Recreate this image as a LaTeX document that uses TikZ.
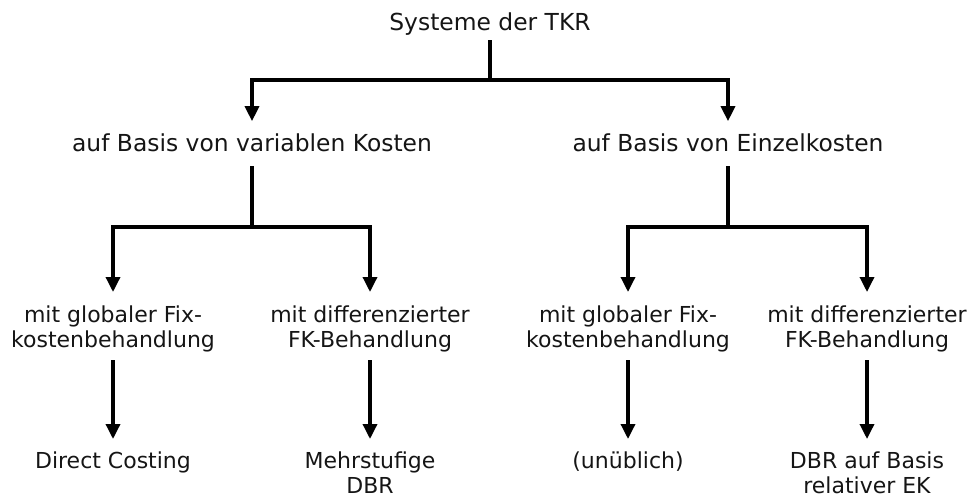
\documentclass[tikz,border=0pt]{standalone}
\usepackage{fontspec}
\setmainfont{DejaVu Sans}
\usetikzlibrary{arrows.meta}
\definecolor{ink}{HTML}{151515}
\begin{document}
\begin{tikzpicture}[x=1pt,y=-1pt,
  big/.style={inner sep=0pt,text=ink,font=\fontsize{23.4}{25}\selectfont,anchor=center},
  small/.style={inner sep=0pt,text=ink,align=center,font=\fontsize{22}{25}\selectfont,anchor=north},
  conn/.style={line width=3.4pt,draw=black,line join=miter},
  arr/.style={conn,-{Triangle[width=14pt,length=15pt]}}]
\useasboundingbox (0,0) rectangle (971,497);
% nodes
\node[big] (top) at (490,25) {\strut Systeme der TKR};
\node[big] (l1) at (252,146) {\strut auf Basis von variablen Kosten};
\node[big] (r1) at (728,146) {\strut auf Basis von Einzelkosten};
\node[small] (l2a) at (113,304.5) {\strut mit globaler Fix-\\\strut kostenbehandlung};
\node[small] (l2b) at (370,304.5) {\strut mit differenzierter\\\strut FK-Behandlung};
\node[small] (r2a) at (628,304.5) {\strut mit globaler Fix-\\\strut kostenbehandlung};
\node[small] (r2b) at (867,304.5) {\strut mit differenzierter\\\strut FK-Behandlung};
\node[small] (l3a) at (113,450.5) {\strut Direct Costing};
\node[small] (l3b) at (370,450.5) {\strut Mehrstufige\\\strut DBR};
\node[small] (r3a) at (628,450.5) {\strut (unüblich)};
\node[small] (r3b) at (867,450.5) {\strut DBR auf Basis\\\strut relativer EK};
% branch points
\coordinate (b0) at (490,80);
\coordinate (b1) at (252,227);
\coordinate (b2) at (728,227);
% connectors
\draw[conn] ([yshift=-2.5pt]top.south) -- (b0);
\draw[arr] (b0) -| ([yshift=12pt]l1.north);
\draw[arr] (b0) -| ([yshift=12pt]r1.north);
\draw[conn] ([yshift=-7.5pt]l1.south) -- (b1);
\draw[conn] ([yshift=-7.5pt]r1.south) -- (b2);
\draw[arr] (b1) -| ([yshift=12.5pt]l2a.north);
\draw[arr] (b1) -| ([yshift=12.5pt]l2b.north);
\draw[arr] (b2) -| ([yshift=12.5pt]r2a.north);
\draw[arr] (b2) -| ([yshift=12.5pt]r2b.north);
\draw[arr] ([yshift=-5.5pt]l2a.south) -- ([yshift=11.5pt]l3a.north);
\draw[arr] ([yshift=-5.5pt]l2b.south) -- ([yshift=11.5pt]l3b.north);
\draw[arr] ([yshift=-5.5pt]r2a.south) -- ([yshift=11.5pt]r3a.north);
\draw[arr] ([yshift=-5.5pt]r2b.south) -- ([yshift=11.5pt]r3b.north);
\end{tikzpicture}
\end{document}
